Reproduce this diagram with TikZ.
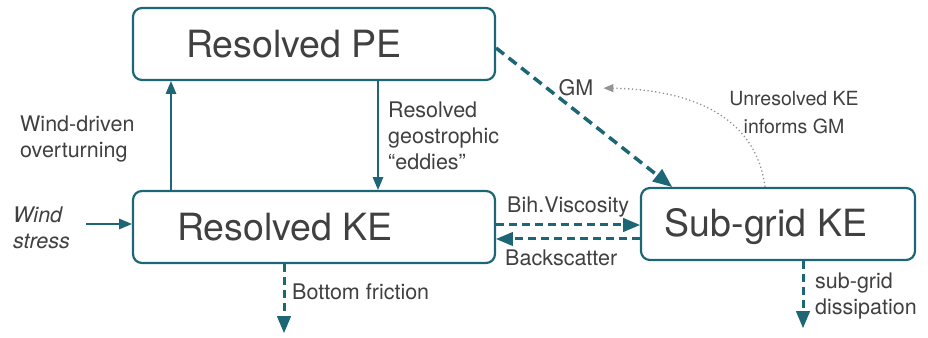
\documentclass[tikz,border=0pt]{standalone}
\usepackage{fontspec}
\setmainfont{TeX Gyre Heros}
\usepackage{tikz}
\usetikzlibrary{arrows}
\definecolor{ttqqcc}{rgb}{0.11,0.40,0.46}
\definecolor{zzzzzz}{rgb}{0.25,0.25,0.25}
\definecolor{qqgray}{rgb}{0.58,0.58,0.58}

\begin{document}
\begin{tikzpicture}[line join=round,>=triangle 45,x=1pt,y=1pt,
  box/.style={draw=ttqqcc,line width=2.2pt,rounded corners=9pt,minimum width=362pt,minimum height=72pt,inner sep=0pt},
  big/.style={text=zzzzzz,font=\fontsize{37.5}{44}\selectfont,anchor=base,inner sep=0pt},
  lbl/.style={text=zzzzzz,font=\fontsize{21.5}{26}\selectfont,align=left,inner sep=0pt},
  flow/.style={->,draw=ttqqcc,line width=2pt},
  flux/.style={->,draw=ttqqcc,line width=3pt,dash pattern=on 8pt off 5pt}]
\useasboundingbox (0,0) rectangle (928,337);
% energy reservoirs
\node[box] (pe) at (314,293) {};
\node[box] (ke) at (314,110) {};
\node[box,minimum width=274pt] (sg) at (778,113) {};
\node[big] (petxt) at (294,279) {Resolved PE};
\node[big] (ketxt) at (285,96) {Resolved KE};
\node[big] (sgtxt) at (766,100) {Sub-grid KE};
% labels
\node[lbl,anchor=north west] (wdo) at (20,221) {Wind-driven\\overturning};
\node[lbl,anchor=north west,font=\fontsize{21.5}{26}\selectfont\itshape] (wst) at (13,130) {Wind\\stress};
\node[lbl,anchor=north west] (rge) at (388,235) {Resolved\\geostrophic\\“eddies”};
\node[lbl,anchor=base] (gm) at (576,241) {GM};
\node[lbl,anchor=north,align=center,font=\fontsize{19.5}{28}\selectfont] (uke) at (794,246) {Unresolved KE\\informs GM};
\node[lbl,anchor=base west] (bih) at (507,124) {Bih.Viscosity};
\node[lbl,anchor=base west] (bsc) at (505,71) {Backscatter};
\node[lbl,anchor=base west] (bfr) at (292,37) {Bottom friction};
\node[lbl,anchor=north west] (sgd) at (815,64) {sub-grid\\dissipation};
% connectors
\coordinate (ws) at (86,113);
\coordinate (bf) at (284,4);
\coordinate (sd) at (803,9);
\draw[flow] ([xshift=-143pt]ke.north) -- ([xshift=-143pt]pe.south);
\draw[flow] ([xshift=64pt]pe.south) -- ([xshift=64pt]ke.north);
\draw[flow] (ws) -- (ke.west |- ws);
\draw[flux,line width=3.5pt,dash pattern=on 10pt off 6pt] ([yshift=-4pt]pe.east) -- ([xshift=-106pt]sg.north);
\draw[flux] ([yshift=2pt]ke.east) -- ([yshift=-1pt]sg.west);
\draw[flux] ([yshift=-15pt]sg.west) -- ([yshift=-12pt]ke.east);
\draw[flux] ([xshift=-30pt]ke.south) -- (bf);
\draw[flux] ([xshift=25pt]sg.south) -- (sd);
\draw[->,draw=qqgray,dash pattern=on 1.3pt off 2.6pt,line width=1.3pt] ([xshift=-13pt]sg.north) .. controls (755,227) and (680,249) .. ([xshift=10pt]gm.east);
\end{tikzpicture}
\end{document}
